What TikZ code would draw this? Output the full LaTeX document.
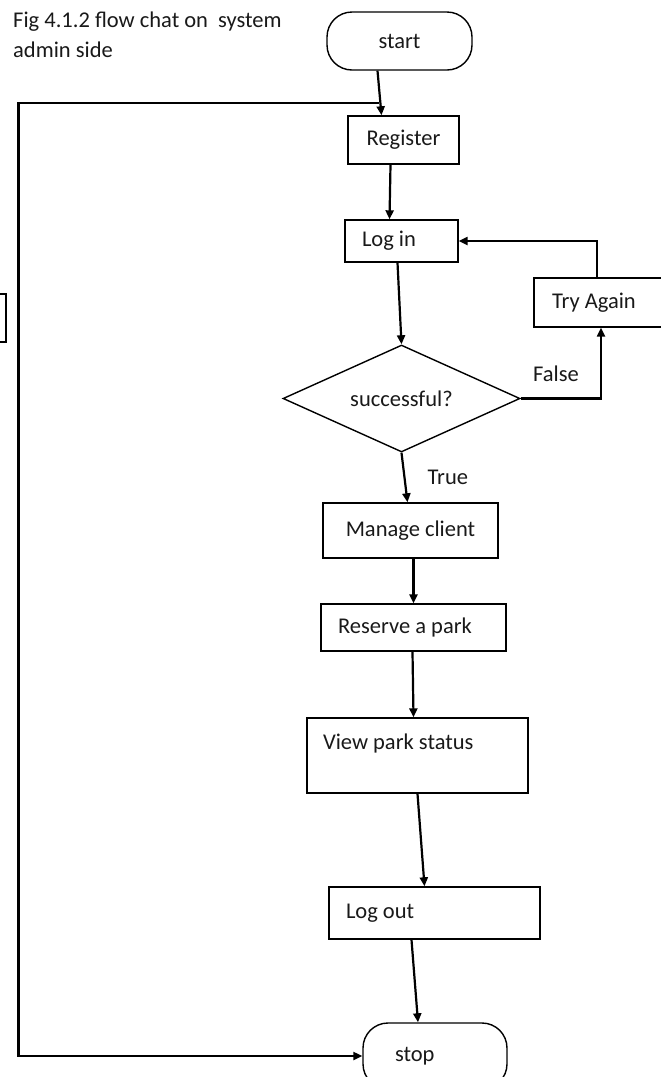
\documentclass[tikz,border=0pt]{standalone}
\usepackage{fontspec}
\setmainfont{Carlito}
\usetikzlibrary{arrows.meta,shapes.geometric}
\newcommand\flowfont{\fontsize{22.5}{29.5}\selectfont}
\tikzset{
  box/.style={draw, line width=1.4pt, rectangle, inner sep=0pt, font=\flowfont, text=black!90},
  term/.style={box, rounded corners=25pt},
  cond/.style={draw, line width=1.4pt, diamond, aspect=2.2, inner sep=0pt, font=\flowfont, text=black!90},
  flow/.style={line width=2.2pt, -{Triangle[length=9pt,width=8pt]}},
  lbl/.style={inner sep=0pt, font=\flowfont, text=black!90},
}

\begin{document}
\begin{tikzpicture}[x=1pt,y=-1pt]
		%%%%% START %%%%%
		\useasboundingbox (0,0) rectangle (661,1077);
		
		\node[lbl, anchor=north west, align=flush left] (cap) at (13,12) {Fig 4.1.2 flow chat on\ \ system\\admin side};
		
		\node[term, minimum width=145pt, minimum height=58pt] (start) at (399.5,41) {start};
		\node[box, minimum width=111pt, minimum height=48pt] (reg) at (403.5,140) {Register};
		\node[box, inner xsep=17pt, text width=79pt, align=flush left, minimum height=42pt] (login) at (401.5,241) {Log in};
		\node[box, inner xsep=18pt, text width=98pt, align=flush left, minimum height=49pt] (try) at (601,302.5) {Try Again};
		\node[cond, minimum width=237pt, minimum height=107pt] (dec) at (401.5,398.5) {successful?};
		\node[box, minimum width=175pt, minimum height=55pt] (mng) at (410.5,530.5) {Manage client};
		\node[box, inner xsep=17pt, text width=151pt, align=flush left, minimum height=47pt] (res) at (413.5,627.5) {Reserve a park};
		\node[box, inner xsep=16pt, text width=189pt, align=flush left, text height=31pt, text depth=44pt] (view) at (417.5,755.5) {View park status};
		\node[box, inner xsep=17pt, text width=177pt, align=flush left, minimum height=52pt] (logout) at (434.5,913) {Log out};
		\node[term, inner xsep=32pt, text width=80pt, align=flush left, minimum height=66pt] (stop) at (435,1056) {stop};
		
		% cut-off box at the left edge
		\draw[line width=1.4pt] (-20,294) rectangle (6,342);
		
		\coordinate (join) at (379,103);
		\coordinate (corner) at (18.5,103);
		
		\draw[flow] ([xshift=-22pt]start.south) -- ([xshift=-22pt]reg.north);
		\draw[flow] (join) -- (corner) |- (stop.west);
		\draw[flow] ([xshift=-13pt]reg.south) -- ([xshift=-12pt]login.north);
		\draw[flow] ([xshift=-4pt]login.south) -- (dec.north);
		\draw[flow] (dec.east) -| (try.south) node[lbl, pos=0.22, yshift=25pt] {False};
		\draw[flow] ([xshift=-4pt]try.north) |- (login.east);
		\draw[flow] (dec.south) -- ([xshift=-3pt]mng.north) node[lbl, midway, right=22pt] {True};
		\draw[flow] ([xshift=3pt]mng.south) -- (res.north);
		\draw[flow] ([xshift=-1pt]res.south) -- ([xshift=-4pt]view.north);
		\draw[flow] (view.south) -- ([xshift=-10pt]logout.north);
		\draw[flow] ([xshift=-23pt]logout.south) -- ([xshift=-17pt]stop.north);
		
		%%%%% END %%%%%
	\end{tikzpicture}
\end{document}
